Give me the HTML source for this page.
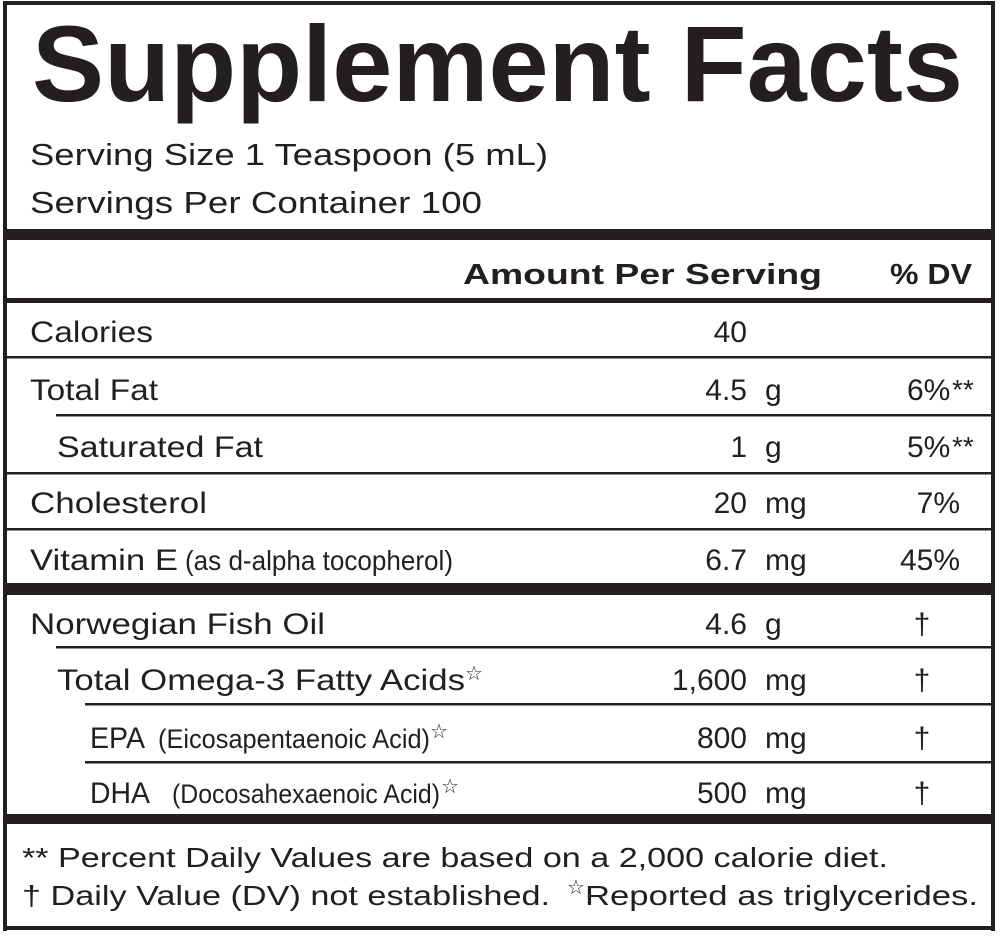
<!DOCTYPE html>
<html><head><meta charset="utf-8"><style>
html,body{margin:0;padding:0;background:#fff;}
svg{display:block;}
text{font-family:"Liberation Sans",sans-serif;fill:#231f20;}
</style></head><body>
<svg width="1000" height="938" viewBox="0 0 1000 938" xmlns="http://www.w3.org/2000/svg">
<rect x="0" y="0" width="1000" height="938" fill="#fff"/>
<g fill="#231f20">
<rect x="3" y="1" width="992" height="4"/>
<rect x="3" y="1" width="4" height="930"/>
<rect x="991" y="1" width="4" height="930"/>
<rect x="3" y="926" width="992" height="4"/>
<rect x="3" y="229" width="992" height="11"/>
<rect x="3" y="298" width="992" height="5"/>
<rect x="3" y="356" width="992" height="2.5"/>
<rect x="56" y="414" width="939" height="2.5"/>
<rect x="3" y="472" width="992" height="2.5"/>
<rect x="3" y="528" width="992" height="2.5"/>
<rect x="3" y="583" width="992" height="12"/>
<rect x="56" y="646" width="939" height="2.5"/>
<rect x="85" y="703" width="910" height="2.5"/>
<rect x="85" y="761" width="910" height="2.5"/>
<rect x="3" y="814" width="992" height="10"/>
</g>
<text x="32" y="101" font-size="108" font-weight="bold" textLength="931" lengthAdjust="spacingAndGlyphs">Supplement Facts</text>
<text x="30" y="165" font-size="31" textLength="518" lengthAdjust="spacingAndGlyphs">Serving Size 1 Teaspoon (5 mL)</text>
<text x="30" y="213" font-size="31" textLength="452" lengthAdjust="spacingAndGlyphs">Servings Per Container 100</text>
<text x="463" y="284" font-size="29" font-weight="bold" textLength="359" lengthAdjust="spacingAndGlyphs">Amount Per Serving</text>
<text x="890" y="284" font-size="29" font-weight="bold" textLength="82" lengthAdjust="spacingAndGlyphs">% DV</text>

<g font-size="30">
<text x="30" y="342" textLength="123" lengthAdjust="spacingAndGlyphs">Calories</text>
<text x="30" y="400" textLength="128" lengthAdjust="spacingAndGlyphs">Total Fat</text>
<text x="57" y="457" textLength="206" lengthAdjust="spacingAndGlyphs">Saturated Fat</text>
<text x="30" y="513" textLength="177" lengthAdjust="spacingAndGlyphs">Cholesterol</text>
<text x="30" y="570" textLength="148" lengthAdjust="spacingAndGlyphs">Vitamin E</text>
<text x="185" y="570" font-size="28" textLength="268" lengthAdjust="spacingAndGlyphs">(as d-alpha tocopherol)</text>
<text x="30" y="634" textLength="295" lengthAdjust="spacingAndGlyphs">Norwegian Fish Oil</text>
<text x="57" y="690" textLength="408" lengthAdjust="spacingAndGlyphs">Total Omega-3 Fatty Acids</text>
<text x="465" y="680" font-size="20">☆</text>
<text x="90" y="748" textLength="55" lengthAdjust="spacingAndGlyphs">EPA</text>
<text x="158" y="748" font-size="27" textLength="272" lengthAdjust="spacingAndGlyphs">(Eicosapentaenoic Acid)</text>
<text x="430" y="738" font-size="20">☆</text>
<text x="90" y="803" textLength="60" lengthAdjust="spacingAndGlyphs">DHA</text>
<text x="172" y="803" font-size="27" textLength="268" lengthAdjust="spacingAndGlyphs">(Docosahexaenoic Acid)</text>
<text x="441" y="793" font-size="20">☆</text>

<g text-anchor="end">
<text x="747" y="342">40</text>
<text x="747" y="400">4.5</text>
<text x="747" y="457">1</text>
<text x="747" y="513">20</text>
<text x="747" y="570">6.7</text>
<text x="747" y="634">4.6</text>
<text x="747" y="690">1,600</text>
<text x="747" y="748">800</text>
<text x="747" y="803">500</text>
<text x="960" y="513">7%</text>
<text x="960" y="570">45%</text>
</g>
<text x="765" y="400">g</text>
<text x="765" y="457">g</text>
<text x="765" y="513">mg</text>
<text x="765" y="570">mg</text>
<text x="765" y="634">g</text>
<text x="765" y="690">mg</text>
<text x="765" y="748">mg</text>
<text x="765" y="803">mg</text>
<text x="907" y="400">6%</text><text x="952" y="399" font-size="28">**</text>
<text x="907" y="457">5%</text><text x="952" y="456" font-size="28">**</text>
<g text-anchor="middle">
<text x="922" y="634">†</text>
<text x="922" y="690">†</text>
<text x="922" y="748">†</text>
<text x="922" y="803">†</text>
</g>
</g>
<text x="22" y="867" font-size="28" textLength="866" lengthAdjust="spacingAndGlyphs">** Percent Daily Values are based on a 2,000 calorie diet.</text>
<text x="22" y="905" font-size="28" textLength="528" lengthAdjust="spacingAndGlyphs">† Daily Value (DV) not established.</text>
<text x="567" y="894" font-size="20">☆</text>
<text x="585" y="905" font-size="28" textLength="393" lengthAdjust="spacingAndGlyphs">Reported as triglycerides.</text>
</svg>
</body></html>
